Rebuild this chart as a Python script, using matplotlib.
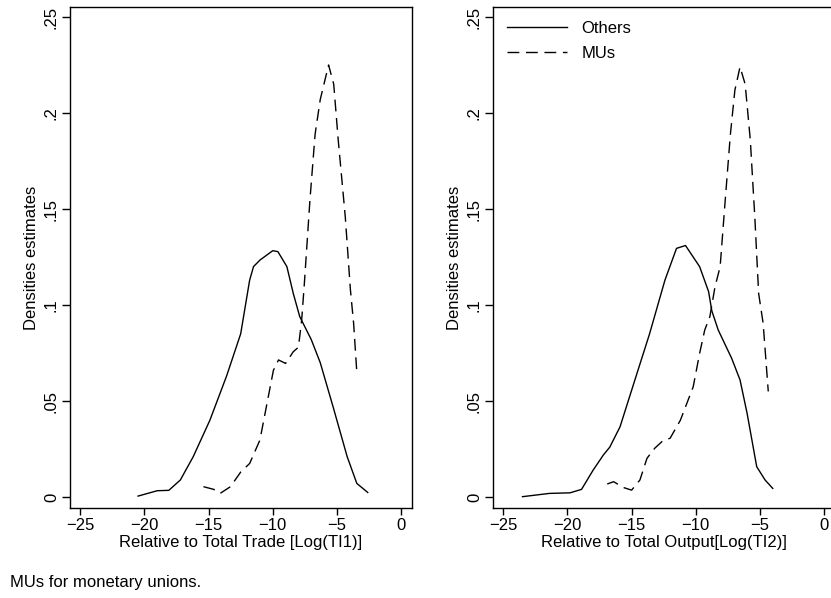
import numpy as np
import matplotlib
matplotlib.use("Agg")
import matplotlib.pyplot as plt

plt.rcParams['font.family'] = ['Liberation Sans', 'DejaVu Sans']

# left panel: relative to total trade
ti1_others_x = [-20.5, -19.0, -18.1, -17.2, -16.2, -14.9, -13.6, -12.5, -11.8, -11.5, -11.0,
                -10.0, -9.6, -8.9, -8.4, -7.9, -7.0, -6.3, -5.3, -4.2, -3.45, -2.6]
ti1_others_y = [0.0005, 0.0033, 0.0035, 0.0089, 0.021, 0.040, 0.063, 0.085, 0.113, 0.120, 0.1234,
                0.1283, 0.1278, 0.120, 0.106, 0.094, 0.082, 0.070, 0.047, 0.021, 0.0071, 0.0024]
ti1_mus_x = [-15.4, -14.6, -14.1, -13.3, -12.5, -11.8, -11.0, -10.5, -9.95, -9.55, -9.0, -8.4,
             -8.0, -7.75, -7.55, -7.1, -6.7, -6.3, -5.65, -5.25, -4.9, -4.35, -3.95, -3.7, -3.45]
ti1_mus_y = [0.0054, 0.004, 0.0019, 0.0054, 0.013, 0.0175, 0.0297, 0.047, 0.066, 0.0714, 0.0696, 0.0757,
             0.078, 0.092, 0.110, 0.155, 0.189, 0.207, 0.225, 0.215, 0.186, 0.146, 0.108, 0.0905, 0.065]

# right panel: relative to total output
ti2_others_x = [-23.5, -21.4, -19.8, -18.9, -18.0, -17.2, -16.7, -15.9, -14.6, -13.6, -12.4,
                -11.5, -10.8, -9.7, -9.0, -8.75, -8.25, -7.2, -6.55, -6.0, -5.25, -4.6, -4.0]
ti2_others_y = [0.0002, 0.0019, 0.0022, 0.004, 0.014, 0.0219, 0.026, 0.0366, 0.064, 0.085, 0.113,
                0.1295, 0.131, 0.120, 0.107, 0.097, 0.087, 0.0722, 0.061, 0.0436, 0.0158, 0.0089, 0.0045]
ti2_mus_x = [-16.9, -16.4, -15.65, -15.0, -14.35, -13.8, -13.2, -12.5, -12.0, -11.2, -10.2, -9.7,
             -9.3, -8.9, -8.5, -8.1, -7.7, -7.3, -6.95, -6.55, -6.15, -5.75, -5.4, -5.1, -4.75, -4.35]
ti2_mus_y = [0.0068, 0.008, 0.005, 0.0036, 0.0089, 0.0202, 0.0254, 0.0297, 0.0306, 0.040, 0.0574, 0.0748,
             0.087, 0.094, 0.1095, 0.120, 0.155, 0.189, 0.212, 0.224, 0.215, 0.186, 0.146, 0.106, 0.0905, 0.055]

xticks = [-25, -20, -15, -10, -5, 0]
yticks = [0, 0.05, 0.1, 0.15, 0.2, 0.25]
yticklabels = ['0', '.05', '.1', '.15', '.2', '.25']

fig = plt.figure(figsize=(8.31, 5.98), dpi=100)
ax1 = fig.add_axes([70 / 831, 1 - 508 / 598, 342 / 831, 501 / 598])
ax2 = fig.add_axes([493 / 831, 1 - 508 / 598, 342 / 831, 501 / 598])

panels = [
    (ax1, ti1_others_x, ti1_others_y, ti1_mus_x, ti1_mus_y, 'Relative to Total Trade [Log(TI1)]'),
    (ax2, ti2_others_x, ti2_others_y, ti2_mus_x, ti2_mus_y, 'Relative to Total Output[Log(TI2)]'),
]
for ax, ox, oy, mx, my, xlabel in panels:
    ax.plot(ox, oy, color='black', lw=1.0, label='Others')
    ax.plot(mx, my, color='black', lw=1.0, dashes=(8.5, 4.8), label='MUs')
    ax.set_xlim(-25.8, 0.85)
    ax.set_ylim(-0.0057, 0.2552)
    ax.set_xticks(xticks)
    ax.set_yticks(yticks)
    ax.set_yticklabels(yticklabels, rotation=90, va='center')
    ax.tick_params(direction='out', length=5, width=1, labelsize=12, pad=2)
    ax.tick_params(axis='y', length=6)
    ax.set_xlabel(xlabel, fontsize=12, labelpad=2)
    ax.set_ylabel('Densities estimates', fontsize=12, labelpad=3.5)
    for s in ax.spines.values():
        s.set_linewidth(1.0)

ax2.legend(loc='upper left', bbox_to_anchor=(0.0, 1.0), frameon=False, fontsize=12,
           handlelength=3.6, handletextpad=0.84, labelspacing=0.56, borderaxespad=0.45)

fig.text(10 / 831, 1 - 583 / 598, 'MUs for monetary unions.', fontsize=12, va='center', ha='left')

fig.savefig('out.png', dpi=100)
